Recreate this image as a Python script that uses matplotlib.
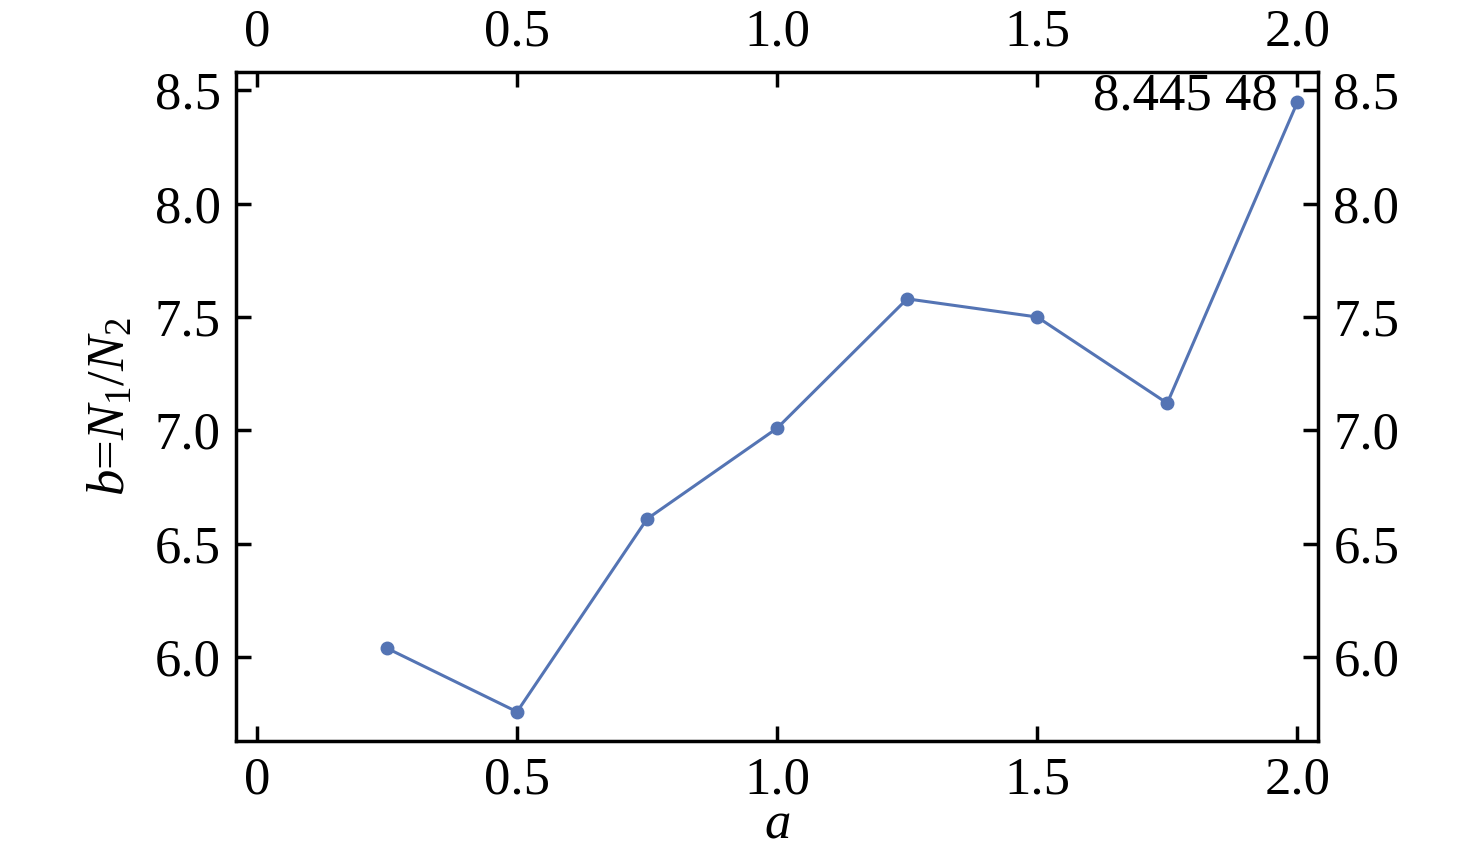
import matplotlib
matplotlib.use('Agg')
import matplotlib.pyplot as plt

plt.rcParams['font.family'] = ['Liberation Serif', 'DejaVu Serif']
plt.rcParams['mathtext.fontset'] = 'custom'
plt.rcParams['mathtext.rm'] = 'Liberation Serif'
plt.rcParams['mathtext.it'] = 'Liberation Serif:italic'

a_vals = [0.25, 0.5, 0.75, 1.0, 1.25, 1.5, 1.75, 2.0]
b_vals = [6.04, 5.76, 6.61, 7.01, 7.58, 7.50, 7.12, 8.44548]
x_ticks = [0, 0.5, 1.0, 1.5, 2.0]
x_labels = ['0', '0.5', '1.0', '1.5', '2.0']
y_ticks = [6.0, 6.5, 7.0, 7.5, 8.0, 8.5]
y_labels = ['6.0', '6.5', '7.0', '7.5', '8.0', '8.5']

fig = plt.figure(figsize=(14.76, 8.67), dpi=100)
ax = fig.add_axes([0.16, 0.145, 0.733, 0.772])

color = '#5474b4'
ax.plot(a_vals, b_vals, '-o', color=color, lw=2.2, ms=9)

ax.annotate('8.445 48', xy=(a_vals[-1], b_vals[-1]), xytext=(-14, 4),
            textcoords='offset points', ha='right', va='center', fontsize=38)

ax.set_xlim(-0.04, 2.04)
ax.set_ylim(5.63, 8.58)
ax.set_xticks(x_ticks, x_labels)
ax.set_yticks(y_ticks, y_labels)
ax.tick_params(direction='in', length=11, width=2.5, labelsize=38,
               top=True, right=True, labeltop=True, labelright=True, pad=11)
for s in ax.spines.values():
    s.set_linewidth(2.5)

ax.set_xlabel('$a$', fontsize=38, labelpad=-3)
ax.set_ylabel('$b$=$N_1$/$N_2$', fontsize=38, labelpad=14)

fig.savefig('out.png', dpi=100)
